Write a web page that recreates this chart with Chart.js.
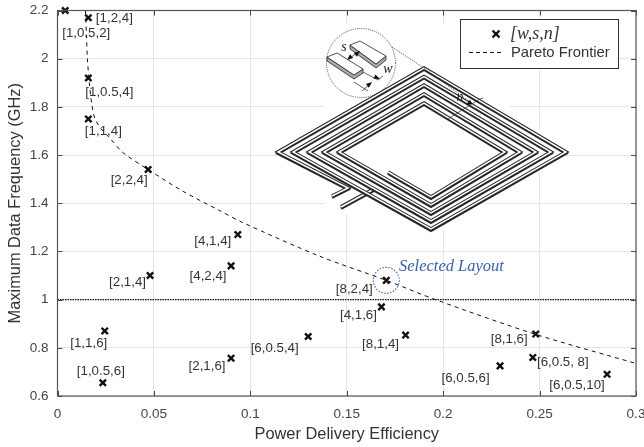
<!DOCTYPE html>
<html>
<head>
<meta charset="utf-8">
<title>Pareto frontier</title>
<script src="https://cdn.jsdelivr.net/npm/chart.js@4"></script>
<style>
  html, body { margin: 0; padding: 0; background: #fff; }
  canvas { display: block; }
</style>
</head>
<body>
<canvas id="paretoChart" width="644" height="447"></canvas>
<script>
// Data
const layoutNames = ['[1,0.5,2]','[1,2,4]','[1,0.5,4]','[1,1,4]','[2,2,4]','[4,1,4]','[4,2,4]','[2,1,4]','[1,1,6]','[1,0.5,6]','[2,1,6]','[6,0.5,4]','[8,2,4]','[4,1,6]','[8,1,4]','[8,1,6]','[6,0.5, 8]','[6,0.5,6]','[6,0.5,10]'];
const layoutEff = [0.004,0.016,0.016,0.016,0.047,0.0935,0.09,0.048,0.0245,0.0235,0.09,0.13,0.1705,0.168,0.1805,0.248,0.2465,0.2295,0.285];
const layoutFreq = [2.2,2.17,1.92,1.75,1.54,1.27,1.14,1.10,0.87,0.655,0.757,0.847,1.08,0.97,0.853,0.857,0.76,0.725,0.69];
const paretoEff = [0.0145,0.015,0.0155,0.0165,0.018,0.0195,0.0225,0.0272,0.034,0.047,0.065,0.084,0.096,0.136,0.1705,0.196,0.2475,0.3];
const paretoFreq = [2.2,2.1,2.0,1.9,1.8,1.75,1.71,1.67,1.61,1.54,1.45,1.37,1.32,1.18,1.08,1.0,0.857,0.735];
const limitEff = [0,0.3];
const limitFreq = [1,1];
const xTicks = [0,0.05,0.1,0.15,0.2,0.25,0.3];
const yTicks = [0.6,0.8,1,1.2,1.4,1.6,1.8,2,2.2];
const selectedEff = 0.1705;
const selectedFreq = 1.08;

// label offsets from each marker, in px
const labelDx = [21,26,21,15,-19,-25,-23,-22.5,-16,-2,-24,-33.5,-32,-23,-25,-26.5,30,-34.5,-30];
const labelDy = [22.5,0.5,14,12,11,6.5,10,6.5,12,-11,8,11.5,9,8,9,5,4.5,12,11];

const sansFont = '"Liberation Sans", Arial, sans-serif';
const serifFont = '"Liberation Serif", "Times New Roman", serif';

function line(ctx, pts) {
  ctx.beginPath();
  pts.forEach((p, i) => i ? ctx.lineTo(p[0], p[1]) : ctx.moveTo(p[0], p[1]));
}

// flat trace with a dark side face
function strokeTrace(ctx, pts, side, outer, inner) {
  ctx.lineJoin = 'miter';
  ctx.lineCap = 'butt';
  line(ctx, pts.map(p => [p[0], p[1] + 1.6]));
  ctx.strokeStyle = '#2a2a2a';
  ctx.lineWidth = side;
  ctx.stroke();
  line(ctx, pts);
  ctx.strokeStyle = '#222';
  ctx.lineWidth = outer;
  ctx.stroke();
  ctx.strokeStyle = '#fff';
  ctx.lineWidth = inner;
  ctx.stroke();
}

function drawBlock(ctx, top, depth) {
  ctx.lineWidth = 0.8;
  ctx.strokeStyle = '#222';
  // side faces
  line(ctx, [top[3], top[2], [top[2][0], top[2][1] + depth], [top[3][0], top[3][1] + depth], [top[0][0], top[0][1] + depth], top[0]]);
  ctx.closePath();
  ctx.fillStyle = '#aaa';
  ctx.fill();
  ctx.stroke();
  line(ctx, top);
  ctx.closePath();
  ctx.fillStyle = '#fff';
  ctx.fill();
  ctx.stroke();
}

function drawArrowHead(ctx, x, y, ang) {
  ctx.save();
  ctx.translate(x, y);
  ctx.rotate(ang);
  ctx.beginPath();
  ctx.moveTo(0, 0);
  ctx.lineTo(-6, -2.4);
  ctx.lineTo(-6, 2.4);
  ctx.closePath();
  ctx.fillStyle = '#111';
  ctx.fill();
  ctx.restore();
}

// the coil drawing behind the data
const coilPlugin = {
  id: 'coil',
  beforeDatasetsDraw(chart) {
    const ctx = chart.ctx;
    ctx.save();
    // the inset is opaque, it hides the grid
    line(ctx, [[326,24],[510,24],[510,108],[572,152],[440,232],[332,212],[274,152],[326,105]]);
    ctx.closePath();
    ctx.fillStyle = '#fff';
    ctx.fill();

    // lens
    ctx.beginPath();
    ctx.arc(361, 63, 34.5, 0, Math.PI * 2);
    ctx.fillStyle = '#fff';
    ctx.fill();
    ctx.setLineDash([1, 1.2]);
    ctx.strokeStyle = '#333';
    ctx.lineWidth = 0.9;
    ctx.stroke();
    line(ctx, [[392,47],[424,68]]);
    ctx.stroke();
    ctx.setLineDash([]);

    // spiral, outside in
    const L = [278,293,309,324,339];
    const T = [68,76.5,85,94,103];
    const R = [566,551,536,520,505];
    const B = [229,221,213,205,197];
    const spiral = [[332,196],[348,188]];
    for (let i = 0; i < 5; i++) {
      spiral.push([L[i],152],[424,T[i]],[R[i],152],[431,B[i]]);
    }
    spiral.push([388,172]);
    strokeTrace(ctx, [[341,207],[374,189]], 2.8, 3.8, 1.9);
    strokeTrace(ctx, spiral, 2.8, 3.6, 1.5);

    // close up of two traces
    drawBlock(ctx, [[350,45],[360,41],[386,56],[376,64]], 4);
    drawBlock(ctx, [[327,57],[337,53],[363,69],[354,75]], 4);

    ctx.strokeStyle = '#222';
    ctx.lineWidth = 0.7;
    line(ctx, [[354,82],[368,91]]); ctx.stroke();
    line(ctx, [[363,72],[378,80],[383,76]]); ctx.stroke();
    line(ctx, [[349,59],[358,52]]); ctx.stroke();
    line(ctx, [[362,91],[370,84]]); ctx.stroke();
    drawArrowHead(ctx, 347, 60, 2.45);
    drawArrowHead(ctx, 360, 51, -0.7);
    drawArrowHead(ctx, 380, 79, 0.4);
    drawArrowHead(ctx, 372, 82, -0.7);
    // n marker over the turns
    line(ctx, [[448,119],[478,100],[483,98]]); ctx.stroke();
    drawArrowHead(ctx, 466, 105, 2.6);
    ctx.setLineDash([1.5, 1.5]);
    line(ctx, [[424,68],[470,102]]);
    ctx.stroke();
    ctx.setLineDash([]);

    ctx.fillStyle = '#222';
    ctx.font = 'italic 14px ' + serifFont;
    ctx.textAlign = 'center';
    ctx.textBaseline = 'middle';
    ctx.fillText('s', 344, 47);
    ctx.fillText('w', 388, 69);
    ctx.fillText('n', 460, 97);
    ctx.restore();
  }
};

// matlab style frame, labels, selected ring and legend
const annotationPlugin = {
  id: 'annotation',
  afterDatasetsDraw(chart) {
    const ctx = chart.ctx;
    const x = chart.scales.x;
    const y = chart.scales.y;
    const a = chart.chartArea;
    ctx.save();

    // inward ticks on all four sides
    ctx.strokeStyle = '#444';
    ctx.lineWidth = 1;
    xTicks.forEach(v => {
      const px = Math.round(x.getPixelForValue(v)) + 0.5;
      line(ctx, [[px, a.bottom], [px, a.bottom - 5]]); ctx.stroke();
      line(ctx, [[px, a.top], [px, a.top + 5]]); ctx.stroke();
    });
    yTicks.forEach(v => {
      const py = Math.round(y.getPixelForValue(v)) + 0.5;
      line(ctx, [[a.left, py], [a.left + 5, py]]); ctx.stroke();
      line(ctx, [[a.right, py], [a.right - 5, py]]); ctx.stroke();
    });
    ctx.strokeStyle = '#555';
    ctx.lineWidth = 1.2;
    ctx.strokeRect(a.left, a.top, a.right - a.left, a.bottom - a.top);

    // layout labels
    ctx.fillStyle = '#333';
    ctx.font = '13.3px ' + sansFont;
    ctx.textAlign = 'center';
    ctx.textBaseline = 'middle';
    layoutNames.forEach((name, i) => {
      ctx.fillText(name, x.getPixelForValue(layoutEff[i]) + labelDx[i], y.getPixelForValue(layoutFreq[i]) + labelDy[i]);
    });

    // selected layout
    const sx = x.getPixelForValue(selectedEff);
    const sy = y.getPixelForValue(selectedFreq);
    ctx.beginPath();
    ctx.arc(sx, sy, 13, 0, Math.PI * 2);
    ctx.setLineDash([1.4, 1.6]);
    ctx.strokeStyle = '#2f5fb3';
    ctx.lineWidth = 1.1;
    ctx.stroke();
    ctx.setLineDash([]);
    ctx.fillStyle = '#3a62ab';
    ctx.font = 'italic 16.5px ' + serifFont;
    ctx.textAlign = 'left';
    ctx.fillText('Selected Layout', 399, 266.5);

    // legend box
    ctx.fillStyle = '#fff';
    ctx.fillRect(460, 19.5, 158, 49);
    ctx.strokeStyle = '#333';
    ctx.lineWidth = 1;
    ctx.strokeRect(460.5, 19.5, 158, 49);
    ctx.strokeStyle = '#111';
    ctx.lineWidth = 2.4;
    line(ctx, [[492.5,30.5],[499.5,37.5]]); ctx.stroke();
    line(ctx, [[499.5,30.5],[492.5,37.5]]); ctx.stroke();
    ctx.lineWidth = 1;
    ctx.setLineDash([4, 3]);
    line(ctx, [[469,52.5],[501,52.5]]); ctx.stroke();
    ctx.setLineDash([]);
    ctx.fillStyle = '#333';
    ctx.font = '14.8px ' + sansFont;
    ctx.fillText('Pareto Frontier', 511, 53);
    ctx.font = 'italic 18px ' + serifFont;
    ctx.fillText('[w,s,n]', 510, 34);
    ctx.restore();
  }
};

const ctx = document.getElementById('paretoChart').getContext('2d');
const paretoChart = new Chart(ctx, {
  type: 'scatter',
  data: {
    datasets: [
      {
        label: 'Pareto Frontier',
        data: paretoEff.map((v, i) => ({x: v, y: paretoFreq[i]})),
        showLine: true,
        borderColor: '#111',
        borderWidth: 1,
        borderDash: [4, 4],
        tension: 0.3,
        pointRadius: 0
      },
      {
        label: 'limit',
        data: limitEff.map((v, i) => ({x: v, y: limitFreq[i]})),
        showLine: true,
        borderColor: '#111',
        borderWidth: 1.2,
        borderDash: [1.5, 1],
        pointRadius: 0
      },
      {
        label: '[w,s,n]',
        data: layoutEff.map((v, i) => ({x: v, y: layoutFreq[i]})),
        showLine: false,
        pointStyle: 'crossRot',
        pointRadius: 4.5,
        pointBorderColor: '#111',
        pointBorderWidth: 2.4,
        clip: false
      }
    ]
  },
  options: {
    responsive: false,
    animation: false,
    layout: { padding: { top: 10.5, right: 8, left: 0, bottom: 0 } },
    plugins: { legend: { display: false }, tooltip: { enabled: false } },
    scales: {
      x: {
        type: 'linear',
        min: 0,
        max: 0.3,
        // tick labels may overhang the plot, keep the area fixed
        afterFit: s => { s.height = 51; s.paddingRight = 0; s.paddingLeft = 0; },
        afterBuildTicks: s => { s.ticks = xTicks.map(v => ({value: v})); },
        grid: { color: '#e4e4e4', lineWidth: 1, drawTicks: false },
        border: { display: false },
        ticks: {
          autoSkip: false,
          maxRotation: 0,
          padding: 10,
          color: '#444',
          font: { family: sansFont, size: 13.5 },
          callback: v => String(v)
        },
        title: {
          display: true,
          text: 'Power Delivery Efficiency',
          color: '#333',
          font: { family: sansFont, size: 16.4 },
          padding: { top: 1, bottom: 3 }
        }
      },
      y: {
        type: 'linear',
        min: 0.6,
        max: 2.2,
        afterFit: s => { s.width = 57.5; s.paddingTop = 0; s.paddingBottom = 0; },
        afterBuildTicks: s => { s.ticks = yTicks.map(v => ({value: v})); },
        grid: { color: '#e4e4e4', lineWidth: 1, drawTicks: false },
        border: { display: false },
        ticks: {
          autoSkip: false,
          padding: 9,
          color: '#444',
          font: { family: sansFont, size: 13.5 },
          callback: v => String(v)
        },
        title: {
          display: true,
          text: 'Maximum Data Frequency (GHz)',
          color: '#333',
          font: { family: sansFont, size: 16.4 },
          padding: { top: 6, bottom: 0 }
        }
      }
    }
  },
  plugins: [coilPlugin, annotationPlugin]
});
</script>
</body>
</html>
